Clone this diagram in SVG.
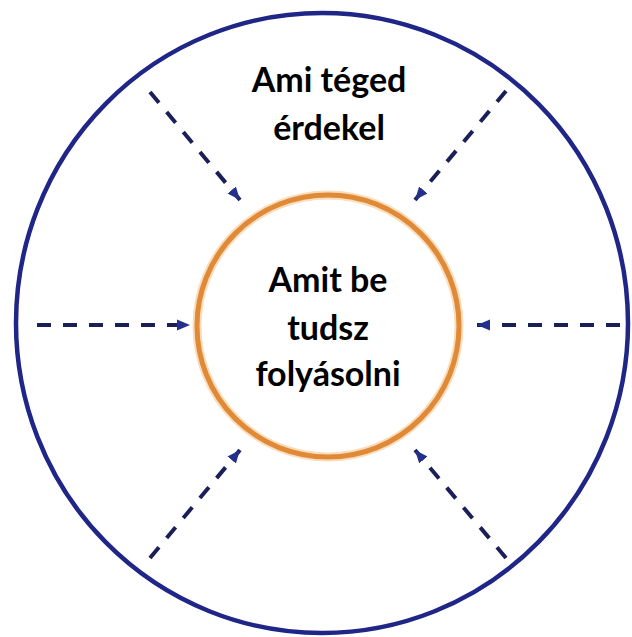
<svg xmlns="http://www.w3.org/2000/svg" width="632" height="637" viewBox="0 0 632 637">
<style>
.lbl{font-family:Lato,"Open Sans","Liberation Sans",sans-serif;font-weight:bold;font-size:34px;fill:#000;text-anchor:middle}
.dash{stroke:#1b1f58;stroke-width:4;stroke-dasharray:14 12;fill:none;marker-end:url(#ah)}
</style>
<defs>
<marker id="ah" markerUnits="userSpaceOnUse" viewBox="0 0 12 10" refX="12" refY="5" markerWidth="13" markerHeight="12" orient="auto">
<path d="M0,0 L12,5 L0,10 z" fill="#25308c"/>
</marker>
</defs>
<rect width="632" height="637" fill="#fff"/>
<g id="outer">
<ellipse cx="322" cy="323" rx="306" ry="310" fill="none" stroke="#1f2687" stroke-width="4.5"/>
<text class="lbl" x="329" y="92">Ami téged</text>
<text class="lbl" x="329" y="140">érdekel</text>
</g>
<g id="inner">
<circle cx="328" cy="326" r="131" fill="none" stroke="#f6c690" stroke-width="9" opacity="0.6"/>
<circle cx="328" cy="326" r="131" fill="none" stroke="#e08a38" stroke-width="5"/>
<text class="lbl" x="328" y="292">Amit be</text>
<text class="lbl" x="328" y="340">tudsz</text>
<text class="lbl" x="328" y="386">folyásolni</text>
</g>
<g id="connectors">
<line class="dash" x1="150" y1="92" x2="240" y2="200"/>
<line class="dash" x1="506" y1="91" x2="415" y2="200"/>
<line class="dash" x1="150" y1="558" x2="240" y2="450"/>
<line class="dash" x1="506" y1="558" x2="415" y2="450"/>
<line class="dash" x1="37" y1="325" x2="190" y2="325"/>
<line class="dash" x1="620" y1="325" x2="477" y2="325"/>
</g>
</svg>
